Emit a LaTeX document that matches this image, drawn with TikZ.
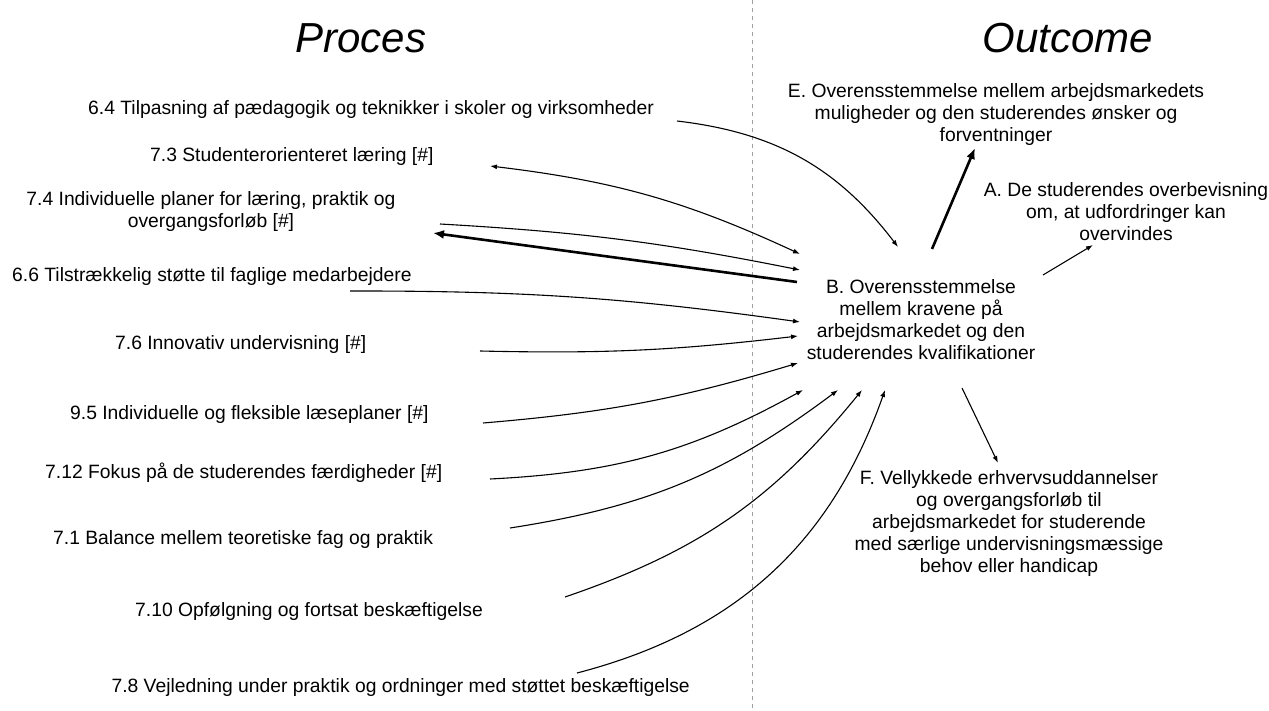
\documentclass[tikz,border=0pt]{standalone}
\usepackage{fontspec}
\setmainfont{Liberation Sans}
\usetikzlibrary{arrows.meta}
\begin{document}
\begin{tikzpicture}[x=1pt,y=-1pt,
  lbl/.style={font=\fontsize{19.3}{22}\selectfont, inner sep=0pt, align=center},
  ttl/.style={font=\fontsize{42}{46}\selectfont\itshape, inner sep=0pt},
  thinarr/.style={line width=1.1pt, -{Latex[length=7pt,width=5pt]}},
  thinboth/.style={line width=1.1pt, {Latex[length=7pt,width=5pt]}-{Latex[length=7pt,width=5pt]}},
  thickarr/.style={line width=2.6pt, -{Latex[length=11pt,width=9pt]}},
  divider/.style={gray!75, line width=1pt, dash pattern=on 4pt off 4pt}]
\useasboundingbox (0,0) rectangle (1269,711);
% divider
\coordinate (dtop) at (752,0);
\coordinate (dbot) at (752,711);
\draw[divider] (dtop) -- (dbot);
% titles
\node[ttl] (proces) at (361,38) {Proces};
\node[ttl] (outcome) at (1068,38) {Outcome};
% left labels
\node[lbl, anchor=west] (l64) at (88,110) {6.4 Tilpasning af pædagogik og teknikker i skoler og virksomheder};
\node[lbl, anchor=west] (l73) at (150,157) {7.3 Studenterorienteret læring [\#]};
\node[lbl] (l74) at (211,212) {7.4 Individuelle planer for læring, praktik og\\overgangsforløb [\#]};
\node[lbl, anchor=west] (l66) at (12,277) {6.6 Tilstrækkelig støtte til faglige medarbejdere};
\node[lbl, anchor=west] (l76) at (115,345) {7.6 Innovativ undervisning [\#]};
\node[lbl, anchor=west] (l95) at (70,415) {9.5 Individuelle og fleksible læseplaner [\#]};
\node[lbl, anchor=west] (l712) at (45,473) {7.12 Fokus på de studerendes færdigheder [\#]};
\node[lbl, anchor=west] (l71) at (53,540) {7.1 Balance mellem teoretiske fag og praktik};
\node[lbl, anchor=east] (l710) at (483,612) {7.10 Opfølgning og fortsat beskæftigelse};
\node[lbl, anchor=east] (l78) at (690,688) {7.8 Vejledning under praktik og ordninger med støttet beskæftigelse};
% right labels
\node[lbl] (nE) at (996,115) {E. Overensstemmelse mellem arbejdsmarkedets\\muligheder og den studerendes ønsker og\\forventninger};
\node[lbl] (nA) at (1126,212) {A. De studerendes overbevisning\\om, at udfordringer kan\\overvindes};
\node[lbl] (nB) at (921,320) {B. Overensstemmelse\\mellem kravene på\\arbejdsmarkedet og den\\studerendes kvalifikationer};
\node[lbl] (nF) at (1009,524) {F. Vellykkede erhvervsuddannelser\\og overgangsforløb til\\arbejdsmarkedet for studerende\\med særlige undervisningsmæssige\\behov eller handicap};
% connector end points
\coordinate (s64) at (677,121);
\coordinate (e64) at (898,247);
\coordinate (s73) at (490,166);
\coordinate (e73) at (800,254);
\coordinate (s74) at (440,224);
\coordinate (e74) at (800,270);
\coordinate (s74b) at (797,282);
\coordinate (e74b) at (433,233);
\coordinate (s66) at (350,291);
\coordinate (e66) at (800,322);
\coordinate (s76) at (480,351);
\coordinate (e76) at (798,336);
\coordinate (s95) at (483,423);
\coordinate (e95) at (798,363);
\coordinate (s712) at (490,479);
\coordinate (e712) at (803,390);
\coordinate (s71) at (510,528);
\coordinate (e71) at (838,390);
\coordinate (s710) at (565,597);
\coordinate (e710) at (862,390);
\coordinate (s78) at (577,673);
\coordinate (e78) at (885,390);
\coordinate (sE) at (932,249);
\coordinate (eE) at (975,148);
\coordinate (sA) at (1043,275);
\coordinate (eA) at (1093,245);
\coordinate (sF) at (962,388);
\coordinate (eF) at (998,463);
% connectors
\draw[thinarr] (s64) to[bend left=23] (e64);
\draw[thinboth] (s73) to[bend left=9] (e73);
\draw[thinarr] (s74) to[bend left=4] (e74);
\draw[thickarr] (s74b) -- (e74b);
\draw[thinarr] (s66) to[bend left=4] (e66);
\draw[thinarr] (s76) to[bend right=4] (e76);
\draw[thinarr] (s95) to[bend right=6] (e95);
\draw[thinarr] (s712) to[bend right=13] (e712);
\draw[thinarr] (s71) to[bend right=14] (e71);
\draw[thinarr] (s710) to[bend right=16] (e710);
\draw[thinarr] (s78) to[bend right=28] (e78);
\draw[thickarr] (sE) -- (eE);
\draw[thinarr] (sA) -- (eA);
\draw[thinarr] (sF) -- (eF);
\end{tikzpicture}
\end{document}
